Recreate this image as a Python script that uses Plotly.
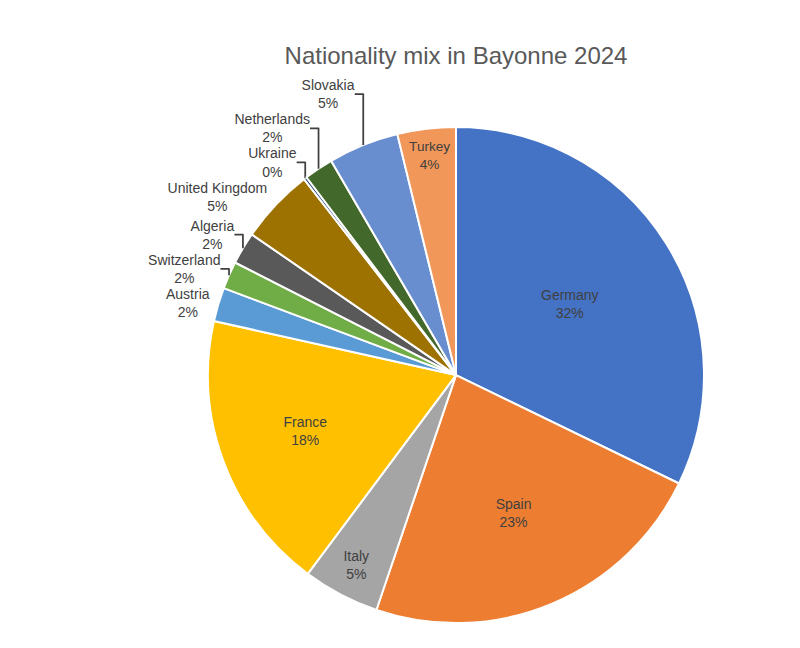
import plotly.graph_objects as go

countries = ["Germany", "Spain", "Italy", "France", "Austria", "Switzerland",
             "Algeria", "United Kingdom", "Ukraine", "Netherlands", "Slovakia", "Turkey"]
shares = [32.2, 23.0, 5.0, 18.3, 2.2, 1.8, 2.1, 4.9, 0.2, 1.9, 4.6, 3.8]
colors = ["#4472C4", "#ED7D31", "#A5A5A5", "#FFC000", "#5B9BD5", "#70AD47",
          "#595959", "#9E7200", "#264478", "#43682B", "#698ED0", "#F1975A"]
positions = ["inside", "inside", "inside", "inside", "outside", "outside",
             "outside", "outside", "outside", "outside", "outside", "inside"]

fig = go.Figure(go.Pie(
    labels=countries,
    values=shares,
    sort=False,
    direction="clockwise",
    rotation=0,
    marker=dict(colors=colors, line=dict(color="white", width=2)),
    texttemplate="%{label}<br>%{percent:.0%}",
    textposition=positions,
    insidetextorientation="horizontal",
    textfont=dict(family="Liberation Sans", size=14, color="#404040"),
    domain=dict(x=[0.25, 0.87], y=[0.05, 0.817]),
    showlegend=False,
))

fig.update_layout(
    title=dict(text="Nationality mix in Bayonne 2024", x=0.56, y=0.94, xanchor="center",
               font=dict(family="Liberation Sans", size=24, color="#595959")),
    width=800, height=648,
    margin=dict(l=0, r=0, t=0, b=0),
    paper_bgcolor="white",
)

fig.write_html("out.html")
